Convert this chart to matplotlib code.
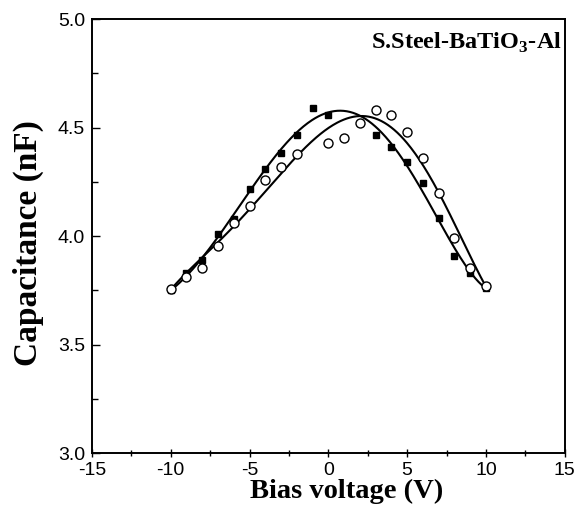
import numpy as np
import matplotlib
matplotlib.use("Agg")
import matplotlib.pyplot as plt
from matplotlib.ticker import MultipleLocator

plt.rcParams['axes.unicode_minus'] = False

# Filled squares (first sweep)
v_filled = [-10, -9, -8, -7, -6, -5, -4, -3, -2, -1, 0, 3, 4, 5, 6, 7, 8, 9, 10]
c_filled = [3.75, 3.83, 3.89, 4.01, 4.08, 4.215, 4.31, 4.385, 4.465, 4.59, 4.56,
            4.465, 4.41, 4.34, 4.245, 4.085, 3.91, 3.83, 3.76]

# Open circles (reverse sweep)
v_open = [-10, -9, -8, -7, -6, -5, -4, -3, -2, 0, 1, 2, 3, 4, 5, 6, 7, 8, 9, 10]
c_open = [3.755, 3.81, 3.855, 3.955, 4.06, 4.14, 4.26, 4.32, 4.38, 4.43, 4.45,
          4.52, 4.58, 4.56, 4.48, 4.36, 4.20, 3.99, 3.855, 3.77]

x_ticks = [-15, -10, -5, 0, 5, 10, 15]
y_ticks = [3.0, 3.5, 4.0, 4.5, 5.0]


def smooth_fit(x, y, deg=5):
    """Polynomial fit, pinned harder at the sweep end points."""
    x = np.asarray(x, float)
    w = np.ones_like(x)
    w[0] = w[-1] = 5.0
    return np.poly1d(np.polyfit(x, y, deg, w=w))


fig = plt.figure(figsize=(5.78, 5.14), dpi=100)
ax = fig.add_axes([0.159, 0.118, 0.818, 0.845])

xs = np.linspace(-10, 10, 300)
for vx, cy in [(v_filled, c_filled), (v_open, c_open)]:
    ax.plot(xs, smooth_fit(vx, cy)(xs), color='black', lw=1.5, zorder=2)

ax.plot(v_filled, c_filled, ls='none', marker='s', ms=5, color='black', zorder=3)
ax.plot(v_open, c_open, ls='none', marker='o', ms=6.5, mfc='white', mec='black',
        mew=1.0, zorder=4)

ax.set_xlim(-15, 15)
ax.set_ylim(3.0, 5.0)
ax.set_xticks(x_ticks)
ax.set_yticks(y_ticks)
ax.set_yticklabels([f"{t:.1f}" for t in y_ticks])
ax.xaxis.set_minor_locator(MultipleLocator(2.5))
ax.yaxis.set_minor_locator(MultipleLocator(0.25))
ax.tick_params(axis='x', which='both', direction='inout', top=False)
ax.tick_params(axis='y', which='both', direction='in', right=False)
ax.tick_params(which='major', length=6, width=1.0, labelsize=14, pad=3)
ax.tick_params(axis='y', which='major', pad=5)
ax.tick_params(which='minor', length=4, width=1.0)
for lab in ax.get_xticklabels() + ax.get_yticklabels():
    lab.set_family('Liberation Sans')
for s in ax.spines.values():
    s.set_linewidth(1.4)

ax.set_xlabel('Bias voltage (V)', family='Liberation Serif', fontweight='bold',
              fontsize=20.5, labelpad=0, x=0.539)
ax.set_ylabel('Capacitance (nF)', family='Liberation Serif', fontweight='bold',
              fontsize=24, labelpad=10, y=0.484)

ax.text(2.7, 4.89, r'S.Steel-BaTiO$_\mathregular{3}$-Al', family='Liberation Serif',
        fontweight='bold', fontsize=17.5, va='center', ha='left', clip_on=True)

fig.savefig('out.png', dpi=100)
